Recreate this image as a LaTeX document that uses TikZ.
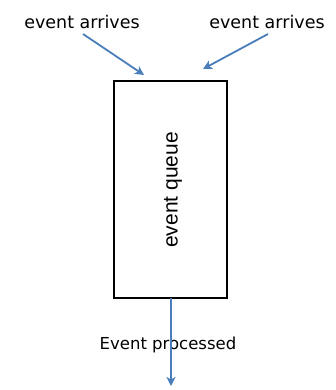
\documentclass[tikz,border=0pt]{standalone}
\usepackage{fontspec}
\setmainfont{DejaVu Sans}
\newfontfamily\boxfont{Liberation Sans}
\usetikzlibrary{arrows.meta}
\definecolor{flowblue}{RGB}{74,126,187}
\begin{document}
\begin{tikzpicture}[x=1pt,y=-1pt,
  lbl/.style={inner sep=0pt,font=\fontsize{17.5}{20}\selectfont},
  flow/.style={draw=flowblue,line width=1.8pt,-{Stealth[length=9pt,width=9pt,inset=2.5pt]}},
  queuebox/.style={draw=black,line width=1.8pt,minimum width=113pt,minimum height=217pt,inner sep=0pt}]
  \useasboundingbox (0,0) rectangle (335,390);
  % the queue
  \node[queuebox] (queue) at (170.5,189.5) {};
  \node[rotate=90,inner sep=0pt,font=\boxfont\fontsize{21}{24}\selectfont] (qlabel) at (173,190) {event queue};
  % incoming events
  \node[lbl] (inL) at (82,22) {event arrives};
  \node[lbl] (inR) at (267,22) {event arrives};
  \coordinate (inLtip) at (144,75);
  \coordinate (inRtip) at (203,69);
  \coordinate (inLstart) at (83,34);
  \coordinate (inRstart) at (268,34);
  \draw[flow] (inLstart) -- (inLtip);
  \draw[flow] (inRstart) -- (inRtip);
  % outgoing event
  \coordinate (outtop) at (171,298);
  \coordinate (outtip) at (171,386);
  \node[lbl,font=\fontsize{16.5}{19}\selectfont] (outlbl) at (168,345) {Event processed};
  \draw[flow] (outtop) -- (outtip);
\end{tikzpicture}
\end{document}
